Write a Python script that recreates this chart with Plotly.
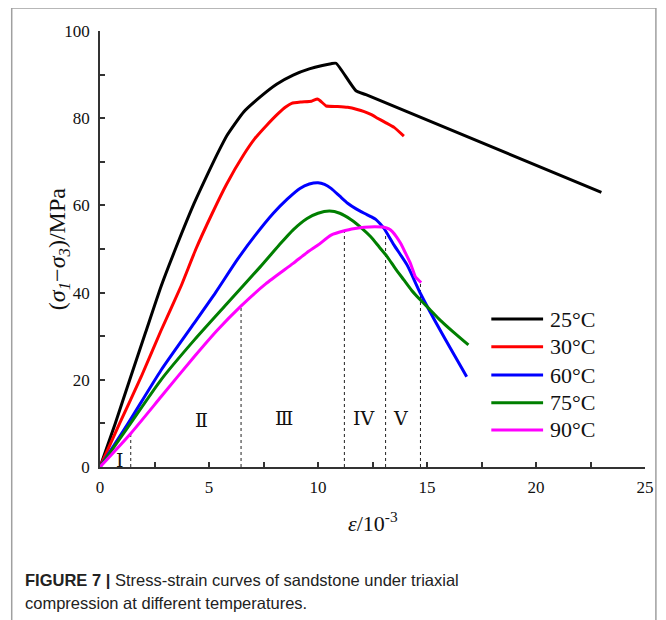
import plotly.graph_objects as go

# ---- data (strain in 1e-3, deviatoric stress in MPa) ----
names = ["25°C", "30°C", "60°C", "75°C", "90°C"]
colors = ["#000000", "#ff0000", "#0000ff", "#007f00", "#ff00ff"]

x25 = [0, 0.7, 1.41, 2.1, 2.8, 3.5, 4.32, 4.92, 5.4, 5.83, 6.6, 7.35, 8.1, 8.86, 9.6, 10.2, 10.6, 10.83,
       11.74, 12.2, 23.0]
y25 = [0, 10, 20.7, 31, 41.4, 50.5, 60.5, 67.0, 72.0, 76.1, 81.5, 84.9, 87.8, 89.9, 91.3, 92.1, 92.5, 92.6,
       86.3, 85.4, 63.0]

x30 = [0, 0.9, 1.89, 2.8, 3.71, 4.4, 5.15, 5.8, 6.59, 7.1, 7.65, 8.18, 8.5, 8.79, 9.2, 9.7, 9.97, 10.1,
       10.38, 10.9, 11.36, 11.8, 12.12, 12.45, 12.73, 13.1, 13.49, 13.94]
y30 = [0, 10, 20.7, 31.3, 41.4, 50, 58.2, 64.8, 71.6, 75.3, 78.4, 81.1, 82.5, 83.4, 83.7, 83.9, 84.4, 84.0,
       82.8, 82.7, 82.5, 82.0, 81.5, 80.8, 80.0, 79.0, 77.9, 75.9]

x60 = [0, 1.29, 2.8, 4.32, 5.3, 6.29, 7.1, 7.95, 8.6, 9.17, 9.6, 10.0, 10.3, 10.6, 11.0, 11.36, 11.75,
       12.12, 12.4, 12.65, 12.85, 13.03, 13.49, 14.09, 14.7, 15.6, 16.82]
y60 = [0, 10, 22.2, 33, 40, 47.5, 53, 58.2, 61.5, 63.9, 64.9, 65.2, 64.8, 63.9, 62.1, 60.5, 59.2,
       58.2, 57.5, 56.8, 55.8, 54.7, 50.9, 46.3, 39.8, 31.4, 20.7]

x75 = [0, 1.29, 2.8, 4.32, 5.83, 7.35, 8.2, 8.86, 9.5, 10.0, 10.53, 11.0, 11.52, 12.0, 12.42, 12.8,
       13.18, 13.55, 13.94, 14.3, 14.7, 15.1, 15.6, 16.2, 16.9]
y75 = [0, 9.2, 20, 29.1, 37.5, 45.9, 50.8, 54.4, 57.0, 58.2, 58.7, 58.2, 56.7, 54.8, 52.8, 50.5,
       48.2, 45.5, 42.9, 40.5, 38.3, 36.3, 33.7, 31.0, 28.0]

x90 = [0, 1.41, 2.8, 4.32, 5.4, 6.44, 7.6, 8.86, 9.5, 10.0, 10.6, 11.21, 11.7, 12.12, 12.6, 13.03,
       13.25, 13.41, 13.6, 13.79, 14.0, 14.24, 14.4, 14.47, 14.73]
y90 = [0, 7.7, 16.1, 25.3, 31.5, 36.8, 42.0, 46.7, 49.2, 50.9, 53.2, 54.2, 54.7, 55.0, 55.1, 55.0,
       54.6, 54.0, 52.8, 51.3, 49.2, 46.7, 44.5, 43.6, 42.3]

# stage boundaries (dashed lines) and stage labels
stage_x = [1.41, 6.47, 11.21, 13.1, 14.7]
stage_top = [7.8, 36.8, 54.2, 54.8, 42.2]
stage_labels = ["Ⅰ", "Ⅱ", "Ⅲ", "IV", "V"]
stage_label_x = [0.91, 4.64, 8.45, 12.09, 13.77]
stage_label_y = [1.6, 10.8, 11.2, 11.2, 11.2]

x_ticks = [0, 5, 10, 15, 20, 25]
y_ticks = [0, 20, 40, 60, 80, 100]

series_x = [x25, x30, x60, x75, x90]
series_y = [y25, y30, y60, y75, y90]
smooth = [0.5, 0.4, 0.6, 0.6, 0.6]

SERIF = "Liberation Serif, Times New Roman, serif"

fig = go.Figure()

for sx, top in zip(stage_x, stage_top):
    fig.add_trace(go.Scatter(x=[sx, sx], y=[0, top], mode="lines",
                             line=dict(color="#222", width=1, dash="3px,3px"),
                             showlegend=False, hoverinfo="skip"))

for n, c, sx, sy, sm in zip(names, colors, series_x, series_y, smooth):
    fig.add_trace(go.Scatter(x=sx, y=sy, mode="lines", name=n,
                             line=dict(color=c, width=3, shape="spline", smoothing=sm),
                             showlegend=False))

annotations = []
for t, ax_, ay_ in zip(stage_labels, stage_label_x, stage_label_y):
    annotations.append(dict(x=ax_, y=ay_, xref="x", yref="y", text=t, showarrow=False,
                            font=dict(family="DejaVu Serif, serif", size=19, color="#111")))

# manual legend
leg_y = [0.3394, 0.2759, 0.2110, 0.1475, 0.0849]
shapes = []
for n, c, ly in zip(names, colors, leg_y):
    shapes.append(dict(type="line", xref="paper", yref="paper", x0=0.718, x1=0.813, y0=ly, y1=ly,
                       line=dict(color=c, width=3)))
    annotations.append(dict(x=0.822, y=ly, xref="paper", yref="paper", text=n, showarrow=False,
                            xanchor="left", yanchor="middle",
                            font=dict(family=SERIF, size=22, color="#111")))

# outer frame
shapes.append(dict(type="rect", xref="paper", yref="paper", x0=-0.162, x1=1.02, y0=-0.40, y1=1.053,
                   line=dict(color="#a0a0a0", width=1.5), fillcolor="rgba(0,0,0,0)", layer="below"))

# caption
CAP = "Liberation Sans Narrow, Arial Narrow, Liberation Sans, Arial, sans-serif"
annotations.append(dict(x=-0.1418, y=-0.259, xref="paper", yref="paper", xanchor="left", yanchor="middle",
                        text="<b>FIGURE 7 |</b> Stress-strain curves of sandstone under triaxial",
                        showarrow=False, align="left",
                        font=dict(family=CAP, size=16.5, color="#222")))
annotations.append(dict(x=-0.1418, y=-0.312, xref="paper", yref="paper", xanchor="left", yanchor="middle",
                        text="compression at different temperatures.",
                        showarrow=False, align="left",
                        font=dict(family=CAP, size=16.5, color="#222")))

# axis titles
annotations.append(dict(x=-0.075, y=0.5, xref="paper", yref="paper", xanchor="center", yanchor="middle",
                        text="(<i>σ</i><sub><i>1</i></sub>−<i>σ</i><sub><i>3</i></sub>)/MPa", textangle=-90,
                        showarrow=False, font=dict(family=SERIF, size=24, color="#111")))
annotations.append(dict(x=0.5, y=-0.127, xref="paper", yref="paper", xanchor="center", yanchor="middle",
                        text="<i>ε</i>/10<sup>-3</sup>",
                        showarrow=False, font=dict(family=SERIF, size=22, color="#111")))

# page body has an 8px margin, so the figure is 8px smaller than the window on each axis
fig.update_layout(
    width=658, height=612,
    margin=dict(l=92, r=16, t=23, b=153),
    paper_bgcolor="white", plot_bgcolor="white",
    showlegend=False,
    shapes=shapes, annotations=annotations,
    font=dict(family=SERIF, size=17, color="#111"),
)
axis_common = dict(ticks="inside", ticklen=5, tickwidth=1.5, tickcolor="#333", showline=True,
                   linecolor="#333", linewidth=1.5, showgrid=False, zeroline=False, mirror=False,
                   tickfont=dict(family=SERIF, size=17, color="#111"))
fig.update_xaxes(range=[0, 25], tickvals=x_ticks, ticklabelstandoff=4,
                 minor=dict(dtick=2.5, ticks="inside", ticklen=5, tickwidth=1.5, tickcolor="#333"),
                 **axis_common)
fig.update_yaxes(range=[0, 100], tickvals=y_ticks, ticklabelstandoff=5,
                 minor=dict(dtick=10, ticks="inside", ticklen=5, tickwidth=1.5, tickcolor="#333"),
                 **axis_common)

fig.write_html("out.html")
